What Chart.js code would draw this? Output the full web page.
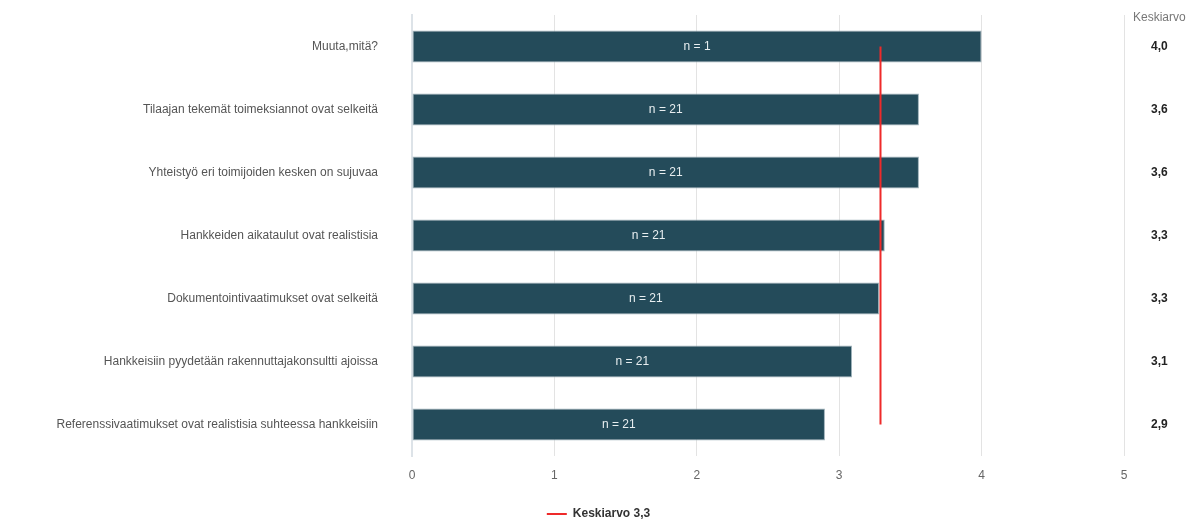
<!DOCTYPE html>
<html>
<head>
<meta charset="utf-8">
<script src="https://cdn.jsdelivr.net/npm/chart.js@4/dist/chart.umd.min.js"></script>
<style>
    html, body { margin: 0; padding: 0; background: #fff; }
    #wrap { width: 1197px; height: 519px; position: relative; }
</style>
</head>
<body>
<div id="wrap"><canvas id="surveyChart"></canvas></div>
<script>
// Chart data
const categories = [
    'Muuta,mitä?',
    'Tilaajan tekemät toimeksiannot ovat selkeitä',
    'Yhteistyö eri toimijoiden kesken on sujuvaa',
    'Hankkeiden aikataulut ovat realistisia',
    'Dokumentointivaatimukset ovat selkeitä',
    'Hankkeisiin pyydetään rakennuttajakonsultti ajoissa',
    'Referenssivaatimukset ovat realistisia suhteessa hankkeisiin'
];
const averages = [4.0, 3.56, 3.56, 3.32, 3.28, 3.09, 2.9];
const averageLabels = ['4,0', '3,6', '3,6', '3,3', '3,3', '3,1', '2,9'];
const respondents = [1, 21, 21, 21, 21, 21, 21];
const overallMean = 3.29;
const overallMeanLabel = 'Keskiarvo 3,3';
const xTicks = [0, 1, 2, 3, 4, 5];

const FONT = 'Arial, "Liberation Sans", sans-serif';

// n = .. labels inside the bars
const barLabels = {
    id: 'barLabels',
    afterDatasetsDraw(chart) {
        const ctx = chart.ctx;
        const meta = chart.getDatasetMeta(0);
        ctx.save();
        ctx.fillStyle = '#e8eef0';
        ctx.font = '12px ' + FONT;
        ctx.textAlign = 'center';
        ctx.textBaseline = 'middle';
        meta.data.forEach((bar, i) => {
            const mid = (bar.x + bar.base) / 2;
            ctx.fillText('n = ' + respondents[i], mid, bar.y);
        });
        ctx.restore();
    }
};

// "Keskiarvo" header over the right column
const columnHeader = {
    id: 'columnHeader',
    afterDraw(chart) {
        const ctx = chart.ctx;
        const right = chart.scales.y2;
        ctx.save();
        ctx.fillStyle = '#777';
        ctx.font = '12px ' + FONT;
        ctx.textAlign = 'left';
        ctx.textBaseline = 'middle';
        ctx.fillText('Keskiarvo', right.left + 9, 18);
        ctx.restore();
    }
};

// the category axes are offset, so their label padding is not needed
function fixedWidth(w) {
    return scale => {
        scale.width = w;
        scale.paddingTop = 0;
        scale.paddingBottom = 0;
    };
}

const ctx = document.getElementById('surveyChart').getContext('2d');
const chart = new Chart(ctx, {
    data: {
        labels: categories,
        datasets: [
            {
                type: 'bar',
                label: 'Keskiarvo',
                data: averages,
                backgroundColor: '#244b5a',
                borderColor: '#9fb2ba',
                borderWidth: 1,
                borderSkipped: false,
                barPercentage: 1,
                categoryPercentage: 0.51,
                order: 2
            },
            {
                type: 'line',
                label: overallMeanLabel,
                data: categories.map(() => overallMean),
                borderColor: '#ee2a2a',
                backgroundColor: '#ee2a2a',
                borderWidth: 2,
                pointRadius: 0,
                fill: false,
                order: 1
            }
        ]
    },
    options: {
        indexAxis: 'y',
        responsive: true,
        maintainAspectRatio: false,
        animation: false,
        layout: {
            padding: { top: 15, left: 0, right: 0, bottom: -11 }
        },
        plugins: {
            legend: {
                position: 'bottom',
                labels: {
                    filter: item => item.datasetIndex === 1,
                    usePointStyle: true,
                    pointStyle: 'line',
                    pointStyleWidth: 20,
                    boxHeight: 2,
                    color: '#333',
                    padding: 0,
                    font: { family: FONT, size: 12, weight: 'bold' }
                }
            },
            tooltip: { enabled: false }
        },
        scales: {
            x: {
                min: 0,
                max: 5,
                afterBuildTicks: scale => {
                    scale.ticks = xTicks.map(v => ({ value: v }));
                },
                afterFit: scale => { scale.height = 52; },
                grid: {
                    color: '#e3e3e3',
                    drawTicks: false
                },
                border: { display: false },
                ticks: {
                    color: '#666',
                    padding: 12,
                    font: { family: FONT, size: 12 }
                }
            },
            y: {
                type: 'category',
                labels: categories,
                afterFit: fixedWidth(412),
                grid: { display: false },
                border: { display: true, color: '#dde3e8', width: 2 },
                ticks: {
                    color: '#555',
                    padding: 26,
                    font: { family: FONT, size: 12 }
                }
            },
            y2: {
                type: 'category',
                position: 'right',
                offset: true,
                labels: averageLabels,
                grid: { display: false, drawTicks: false },
                border: { display: false },
                afterFit: fixedWidth(73),
                ticks: {
                    color: '#222',
                    padding: 27,
                    font: { family: FONT, size: 12, weight: 'bold' }
                }
            }
        }
    },
    plugins: [barLabels, columnHeader]
});
</script>
</body>
</html>
